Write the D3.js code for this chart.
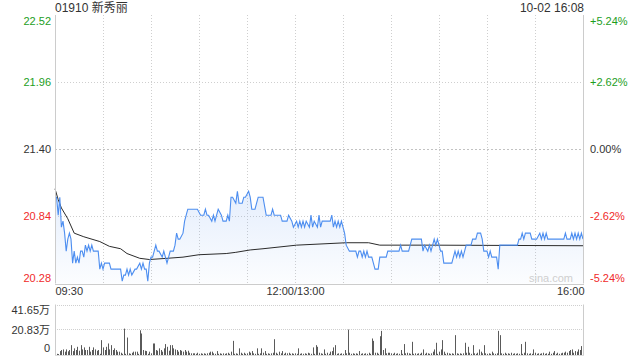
<!DOCTYPE html>
<html><head><meta charset="utf-8">
<script src="https://cdn.jsdelivr.net/npm/d3@7"></script>
<style>
body{margin:0;background:#fff}
svg{display:block}
text{font-family:"Liberation Sans","Noto Sans CJK SC",Arial,sans-serif}
</style>
</head><body>
<svg id="c" width="640" height="360"></svg>
<script>
// ---------- data ----------
const title = "01910 新秀丽";
const stamp = "10-02 16:08";
const prevClose = 21.40;
const priceTicks = [22.52, 21.96, 21.40, 20.84, 20.28];
const pctLabels = ["+5.24%", "+2.62%", "0.00%", "-2.62%", "-5.24%"];
const timeTicks = [0, 150, 330];            // trading minutes since open
const timeLabels = ["09:30", "12:00/13:00", "16:00"];
const volTicks = [41.65, 20.83, 0];         // 万 shares
const volLabels = ["41.65万", "20.83万", "0"];

// price line: [trading minute, price]
const priceMin = [0,1,2,3,4,5,6,7,8,9,10,11,12,13,14,15,16,17,18,19,20,21,22,23,24,27,28,29,30,31,34,35,38,41,42,43,44,45,46,47,48,50,51,53,54,55,56,57,58,59,60,61,62,63,64,65,67,68,69,70,71,72,73,74,75,76,77,78,80,81,82,83,89,91,93,94,95,96,98,99,100,101,102,104,105,107,108,109,110,111,113,114,115,117,118,119,121,122,123,125,126,127,130,132,135,136,137,141,142,145,146,148,149,151,152,153,154,155,156,157,159,160,161,162,164,165,166,167,172,173,174,175,176,177,178,179,180,181,182,184,188,189,190,191,192,193,194,195,196,198,199,200,202,203,207,208,215,216,217,221,223,229,230,231,233,234,235,236,237,238,239,240,241,242,243,248,250,251,252,253,254,255,256,257,260,261,263,264,266,267,268,270,271,272,273,276,277,278,289,290,291,292,293,294,297,298,301,303,304,305,306,307,308,318,319,320,322,323,324,325,326,327,328,329,330];
const priceVal = [21.00,21.00,20.85,21.00,20.75,20.80,20.70,20.55,20.65,20.70,20.65,20.45,20.55,20.45,20.50,20.45,20.55,20.55,20.50,20.60,20.55,20.60,20.55,20.60,20.55,20.55,20.40,20.45,20.40,20.45,20.45,20.40,20.40,20.40,20.30,20.35,20.35,20.40,20.35,20.40,20.35,20.40,20.40,20.45,20.40,20.45,20.40,20.40,20.30,20.45,20.50,20.50,20.55,20.60,20.55,20.55,20.50,20.55,20.50,20.45,20.50,20.55,20.55,20.55,20.60,20.70,20.65,20.65,20.70,20.80,20.85,20.90,20.90,20.85,20.85,20.90,20.85,20.85,20.80,20.85,20.80,20.85,20.90,20.85,20.80,20.80,20.85,20.80,21.00,21.00,20.95,21.05,20.95,20.95,21.00,21.00,21.05,21.00,20.90,20.90,20.95,21.00,21.00,20.85,20.85,20.90,20.85,20.85,20.80,20.80,20.85,20.80,20.75,20.80,20.75,20.80,20.75,20.80,20.75,20.80,20.75,20.85,20.75,20.80,20.75,20.85,20.75,20.80,20.80,20.85,20.75,20.80,20.75,20.80,20.75,20.80,20.75,20.70,20.60,20.55,20.55,20.50,20.55,20.55,20.50,20.55,20.50,20.55,20.50,20.50,20.45,20.40,20.40,20.50,20.50,20.55,20.55,20.60,20.55,20.55,20.65,20.65,20.55,20.60,20.55,20.60,20.55,20.60,20.65,20.60,20.65,20.60,20.55,20.55,20.45,20.45,20.55,20.50,20.55,20.50,20.55,20.50,20.55,20.60,20.60,20.65,20.65,20.70,20.70,20.65,20.55,20.55,20.50,20.55,20.50,20.50,20.40,20.60,20.60,20.65,20.65,20.70,20.65,20.70,20.70,20.65,20.65,20.70,20.65,20.70,20.65,20.70,20.65,20.65,20.70,20.65,20.65,20.70,20.65,20.70,20.65,20.70,20.65,20.70,20.65];

// average price line: [trading minute, price]
const avgMin = [0,2,4,8,12,18,28,34,41,45,53,59,70,80,90,107,113,122,130,151,182,196,203,234,330];
const avgVal = [21.07,20.98,20.91,20.82,20.70,20.67,20.63,20.59,20.57,20.53,20.49,20.48,20.49,20.50,20.52,20.53,20.54,20.56,20.57,20.60,20.62,20.62,20.60,20.60,20.595];

// volume per minute (万 shares), minutes 0..330
const volume = [
3.0,1.0,0.8,3.3,4.2,4.7,2.8,4.7,3.1,4.2,
8.3,3.3,5.6,4.2,6.9,3.6,8.3,4.7,6.4,4.2,
4.2,6.9,2.8,4.2,6.4,4.7,3.6,4.2,1.0,12.5,
6.4,4.2,6.9,9.7,4.7,8.3,4.2,5.6,4.2,2.8,
2.8,1.9,1.0,22.2,1.0,14.7,1.4,1.0,1.9,2.8,
2.8,2.8,1.0,20.8,18.1,4.2,3.6,3.3,1.0,2.8,
1.4,9.7,9.7,4.2,3.6,5.6,4.2,2.8,5.6,9.2,
6.9,3.6,8.3,8.3,5.6,4.7,4.2,2.8,4.2,3.6,
2.8,4.2,2.8,3.6,1.9,1.4,1.4,1.4,1.0,1.9,
1.0,1.4,1.0,1.4,1.0,1.4,1.9,2.8,2.8,1.4,
1.0,3.3,1.0,1.4,1.0,1.4,1.0,1.4,1.9,1.0,
2.8,11.9,1.0,1.4,1.0,5.6,1.9,1.0,1.9,1.0,
1.4,2.8,1.9,3.3,1.4,1.0,5.6,1.0,1.4,5.6,
1.9,3.3,1.0,1.4,1.0,1.4,1.9,13.3,1.9,1.0,
2.8,1.4,3.3,1.0,1.9,1.4,1.9,1.0,1.4,1.0,
1.4,1.0,5.6,1.0,1.4,1.0,1.4,1.0,1.9,1.4,
1.0,6.4,1.0,8.3,6.9,1.9,1.4,1.0,4.7,1.0,
1.9,1.0,2.8,3.3,6.4,8.3,1.0,1.4,1.0,1.4,
1.0,4.2,1.4,21.4,1.9,1.0,1.4,1.0,1.4,1.0,
3.3,1.0,1.4,1.0,1.4,1.0,1.9,1.0,13.9,11.9,
1.9,1.9,1.0,15.8,20.3,4.2,5.6,1.4,1.9,1.9,
1.4,1.0,1.9,1.0,1.4,1.0,4.2,1.0,9.2,1.4,
1.9,1.4,1.0,11.1,1.0,1.4,1.0,1.4,1.0,1.9,
4.7,1.0,1.9,1.4,1.0,1.4,2.8,4.7,10.3,1.0,
2.8,4.7,12.5,2.8,1.0,1.9,1.4,1.0,1.4,1.0,
16.7,1.4,1.0,1.4,1.0,1.4,10.3,1.9,6.9,1.9,
1.0,8.3,1.4,1.0,1.9,4.7,2.8,1.4,8.3,1.4,
1.0,1.4,1.0,2.8,1.4,1.0,1.4,20.3,16.7,1.4,
1.0,1.9,1.0,1.4,1.0,1.9,1.0,1.4,1.0,1.4,
1.0,9.2,1.0,1.9,11.1,1.4,1.0,1.4,1.0,4.7,
1.9,1.0,1.4,1.0,1.4,1.9,1.0,1.4,1.0,2.8,
1.0,1.9,3.3,1.0,1.9,1.0,1.4,1.9,1.9,2.8,
1.9,3.3,4.2,4.7,1.9,3.3,2.8,4.7,4.2,7.5,
6.4];

// ---------- drawing ----------
const GREEN = "#1d9e1d", RED = "#f02a2a", DARK = "#333";
const L = 55, R = 583, T = 15, B = 283.5, VT = 305.5, VB = 355;
const svg = d3.select("#c");

const x = d3.scaleLinear().domain([0, 330]).range([L, R]);
const y = d3.scaleLinear().domain([priceTicks[4], priceTicks[0]]).range([B, T]);
const yv = d3.scaleLinear().domain([0, volTicks[0]]).range([VB, VT]);
const px = v => Math.round(v) + 0.5;

function priceColor(v) {
  if (Math.abs(v - prevClose) < 1e-6) return DARK;
  return v > prevClose ? GREEN : RED;
}

// gradient fill
const defs = svg.append("defs");
const grad = defs.append("linearGradient").attr("id", "fill").attr("x1", 0).attr("y1", 0).attr("x2", 0).attr("y2", 1);
grad.append("stop").attr("offset", "0%").attr("stop-color", "#5b95ee").attr("stop-opacity", 0.16);
grad.append("stop").attr("offset", "100%").attr("stop-color", "#5b95ee").attr("stop-opacity", 0.02);

// header
svg.append("text").attr("x", L).attr("y", 12).attr("font-size", 12).attr("fill", DARK).text(title);
svg.append("text").attr("x", R + 1).attr("y", 12).attr("font-size", 12).attr("fill", DARK).attr("text-anchor", "end").text(stamp);

// grid: vertical
const gridMinutes = d3.range(30, 330, 30);
svg.append("g").selectAll("line").data(gridMinutes).join("line")
  .attr("x1", d => px(x(d))).attr("x2", d => px(x(d)))
  .attr("y1", T).attr("y2", B)
  .attr("stroke", "#cfcfcf").attr("stroke-dasharray", "1,2");

// grid: horizontal (inner ticks)
svg.append("g").selectAll("line").data(priceTicks.slice(1, 4)).join("line")
  .attr("x1", L).attr("x2", R)
  .attr("y1", d => px(y(d))).attr("y2", d => px(y(d)))
  .attr("stroke", d => d === prevClose ? "#c2c2c2" : "#cfcfcf")
  .attr("stroke-dasharray", d => d === prevClose ? "2,2" : "1,2");

// area + lines
const pts = priceMin.map((m, i) => [m, priceVal[i]]);
const avgPts = avgMin.map((m, i) => [m, avgVal[i]]);
svg.append("path").datum(pts)
  .attr("d", d3.area().x(d => x(d[0])).y0(B).y1(d => y(d[1])))
  .attr("fill", "url(#fill)");
svg.append("path").datum(avgPts)
  .attr("d", d3.line().x(d => x(d[0])).y(d => y(d[1])))
  .attr("fill", "none").attr("stroke", "#2b2b2b").attr("stroke-width", 1);
svg.append("path").datum(pts)
  .attr("d", d3.line().x(d => x(d[0])).y(d => y(d[1])))
  .attr("fill", "none").attr("stroke", "#4d8ef0").attr("stroke-width", 1.1);

// frame of price panel
const frame = svg.append("g").attr("stroke", "#cccccc").attr("fill", "none");
frame.append("line").attr("x1", px(L)).attr("x2", px(L)).attr("y1", T).attr("y2", B);
frame.append("line").attr("x1", px(R)).attr("x2", px(R)).attr("y1", T).attr("y2", B);
frame.append("line").attr("x1", L).attr("x2", R + 1).attr("y1", px(B)).attr("y2", px(B));

// watermark
svg.append("text").attr("x", 573).attr("y", 282).attr("font-size", 11).attr("fill", "#cfcfcf").attr("text-anchor", "end").text("sina.com");

// left price axis
const ax = svg.append("g").attr("transform", `translate(${L - 4},0)`)
  .call(d3.axisLeft(y).tickValues(priceTicks).tickSize(0).tickPadding(0).tickFormat(d3.format(".2f")));
ax.select(".domain").remove();
ax.selectAll("text").attr("font-size", 11).attr("font-family", null)
  .attr("fill", d => priceColor(d))
  .attr("dy", (d, i) => i === 0 ? "0.85em" : (i === priceTicks.length - 1 ? "-0.2em" : "0.32em"));

// right percentage axis
const ar = svg.append("g").attr("transform", `translate(${R + 7},0)`)
  .call(d3.axisRight(y).tickValues(priceTicks).tickSize(0).tickPadding(0).tickFormat((d, i) => pctLabels[i]));
ar.select(".domain").remove();
ar.selectAll("text").attr("font-size", 11).attr("font-family", null)
  .attr("fill", d => priceColor(d))
  .attr("dy", (d, i) => i === 0 ? "0.85em" : (i === priceTicks.length - 1 ? "-0.2em" : "0.32em"));

// time axis
const at = svg.append("g").attr("transform", `translate(0,${B + 4})`)
  .call(d3.axisBottom(x).tickValues(timeTicks).tickSize(0).tickPadding(0).tickFormat((d, i) => timeLabels[i]));
at.select(".domain").remove();
at.selectAll("text").attr("font-size", 11).attr("font-family", null).attr("fill", DARK)
  .attr("text-anchor", (d, i) => i === 0 ? "start" : (i === timeTicks.length - 1 ? "end" : "middle"))
  .attr("dx", (d, i) => i === timeTicks.length - 1 ? 1 : 0);

// volume panel grid
const vg = svg.append("g");
vg.selectAll("line").data(volTicks.slice(0, 2)).join("line")
  .attr("x1", L).attr("x2", R)
  .attr("y1", d => px(yv(d)) - 1).attr("y2", d => px(yv(d)) - 1)
  .attr("stroke", "#cfcfcf").attr("stroke-dasharray", "1,1");

// volume bars
svg.append("g").selectAll("rect").data(volume).join("rect")
  .attr("x", (d, i) => Math.round(x(i)))
  .attr("width", 1)
  .attr("y", d => yv(d))
  .attr("height", d => yv(0) - yv(d))
  .attr("fill", "#5a5a5a");

const vframe = svg.append("g").attr("stroke", "#cccccc");
vframe.append("line").attr("x1", px(L)).attr("x2", px(L)).attr("y1", VT - 1).attr("y2", VB);
vframe.append("line").attr("x1", px(R)).attr("x2", px(R)).attr("y1", VT - 1).attr("y2", VB);
vframe.append("line").attr("x1", L).attr("x2", R + 1).attr("y1", VB + 0.5).attr("y2", VB + 0.5).attr("stroke", "#dddddd");

// volume axis
const av = svg.append("g").attr("transform", `translate(${L - 5},0)`)
  .call(d3.axisLeft(yv).tickValues(volTicks).tickSize(0).tickPadding(0).tickFormat((d, i) => volLabels[i]));
av.select(".domain").remove();
av.selectAll("text").attr("font-size", 11).attr("font-family", null).attr("fill", DARK)
  .attr("dy", (d, i) => i === 0 ? "0.7em" : (i === volTicks.length - 1 ? "-0.3em" : "0.32em"));
</script>
</body></html>
